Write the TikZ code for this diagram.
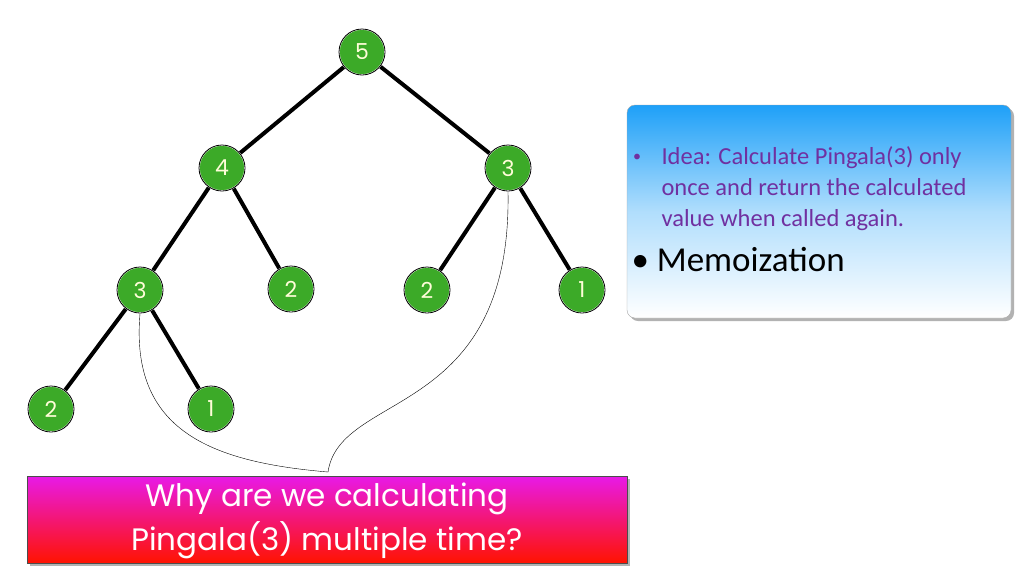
\documentclass[tikz,border=0pt]{standalone}
\usepackage{fontspec}
\setmainfont{Carlito}
\newfontfamily\handfont{Poppins}
\definecolor{boxblue}{RGB}{30,160,248}
\definecolor{txtpur}{RGB}{112,48,160}
\definecolor{nodegreen}{RGB}{60,170,40}
\begin{document}
\begin{tikzpicture}[x=1pt,y=-1pt,
  tn/.style={circle,fill=nodegreen,draw=white,line width=1.5pt,minimum size=46pt,inner sep=0pt,
    font=\handfont\fontsize{22}{22}\selectfont,text=white!85!yellow,
    postaction={draw=black,line width=0.8pt}},
  ed/.style={line width=4pt,black}]
\useasboundingbox (0,0) rectangle (1024,576);
\node[tn] (n5) at (362,52) {5};
\node[tn] (n4) at (222,168) {4};
\node[tn] (n3a) at (508,168) {3};
\node[tn] (n3b) at (140,290) {3};
\node[tn] (n2a) at (291,289) {2};
\node[tn] (n2b) at (427,290) {2};
\node[tn] (n1a) at (582,290) {1};
\node[tn] (n2c) at (51,409) {2};
\node[tn] (n1b) at (211,409) {1};
\foreach \a/\b in {n5/n4,n5/n3a,n4/n3b,n4/n2a,n3a/n2b,n3a/n1a,n3b/n2c,n3b/n1b}
  \draw[ed] (\a) -- (\b);
\coordinate (j) at (328,472);
\draw[thin] (n3b.south) .. controls (130,430) and (210,462) .. (j);
\draw[thin] (j) .. controls (340,390) and (512,420) .. (n3a.south);
% right box
\fill[gray!60,rounded corners=8pt] (630,108) rectangle (1014,321);
\shade[top color=boxblue,bottom color=white,middle color=boxblue!35,rounded corners=8pt,draw=gray!70] (627,105) rectangle (1011,318);
\node[anchor=west,text=txtpur,font=\fontsize{24.5}{31}\selectfont,align=left] (t1) at (658,189) {Idea: Calculate Pingala(3) only\\once and return the calculated\\value when called again.};
\node[text=txtpur,font=\fontsize{16}{16}\selectfont] (b1) at (637,158) {•};
\node[anchor=west,font=\fontsize{35}{35}\selectfont] (t2) at (628,260) {• Memoization};
% bottom box
\fill[gray!60] (30,479) rectangle (630,566);
\shade[top color=magenta!80!violet!90,bottom color=red!85!orange,draw=gray!60!black] (27,476) rectangle (627,563);
\node[text=white,font=\handfont\fontsize{31}{44}\selectfont,align=center] (q) at (327,521) {Why are we calculating\\Pingala(3) multiple time?};
\end{tikzpicture}
\end{document}
